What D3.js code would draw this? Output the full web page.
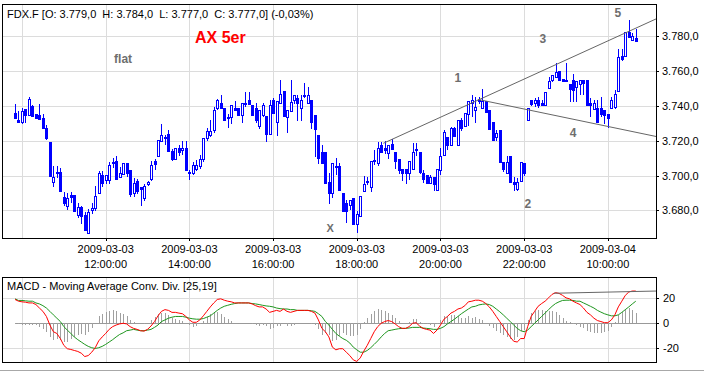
<!DOCTYPE html>
<html>
<head>
<meta charset="utf-8">
<script src="https://cdn.jsdelivr.net/npm/d3@7"></script>
<style>
  body { margin: 0; background: #fff; }
  text { font-family: "Liberation Sans", Arial, sans-serif; }
</style>
</head>
<body>
<script>

// ---- data: 5 minute bars of FDX.F, 2009-03-03 09:50 .. 2009-03-04 10:40 ----
var opens = [3736,3732,3730.5,3738,3734.5,3740,3735.5,3735,3733,3727,3719,3696.5,3702,3702,3688,3682.5,3689,3689,3677.5,3682,
  3677.5,3667,3680.5,3681.5,3690,3700.5,3697.5,3697.5,3707,3708.5,3699,3701,3707,3703,3690,3697,3693.5,3687,3695,3698,
  3708.5,3711,3720,3722,3724,3714,3709.5,3716,3714.5,3716,3702,3701.5,3703.5,3705.5,3709.5,3721.5,3723,3726,3739,3741.5,
  3739,3733,3733.5,3739,3738.5,3734.5,3741.5,3743.5,3740.5,3739,3728.5,3735,3734,3724,3743.5,3731,3741.5,3748.5,3733.5,3737,
  3743.5,3744.5,3738.5,3746,3741.5,3743.5,3734.5,3723,3713.5,3713.5,3696.5,3690,3705.5,3705.5,3690,3684,3683,3687,3672.5,3677,
  3691,3697,3693.5,3708.5,3707,3717.5,3716,3713,3718,3713.5,3709.5,3704,3704,3701.5,3703.5,3715,3713.5,3701.5,3700.5,3696,
  3699,3692,3703,3712,3722,3717.5,3727,3717.5,3732,3728.5,3735.5,3741.5,3737.5,3742.5,3738.5,3742.5,3737.5,3731,3722,3726,
  3707.5,3701.5,3711,3696.5,3692.5,3697,3707,3732,3743.5,3741.5,3743.5,3741.5,3740.5,3750,3755,3756.5,3760,3755.5,3755,3752.5,
  3755,3751,3752.5,3755,3755,3741.5,3738,3738.5,3738.5,3737.5,3735.5,3739,3739.5,3748.5,3768.5,3768.5,3782.5,3777.5,3779];
var highs = [3741,3737,3739,3738,3745,3740.5,3735.5,3741,3735.5,3729,3719,3705.5,3705.5,3704.5,3690.5,3690,3690.5,3689,3684.5,3682.5,
  3679,3681,3684.5,3694,3702.5,3702.5,3700.5,3707.5,3710,3711,3705,3707,3707,3703,3698.5,3698,3693.5,3695,3697,3708.5,
  3709.5,3720.5,3729.5,3723,3726,3715,3716,3717.5,3720,3720,3703,3708,3709,3712,3721.5,3727,3732,3739.5,3744,3746,
  3739,3735.5,3740.5,3742.5,3739,3741.5,3748,3748,3740.5,3741.5,3737.5,3741.5,3734,3743.5,3744.5,3742.5,3755,3748.5,3737.5,3755,
  3746,3746,3746,3753,3751,3743.5,3734.5,3723,3717.5,3713.5,3701.5,3707,3710,3707,3690,3686,3686,3687,3679.5,3688.5,
  3699.5,3699,3708.5,3714.5,3719,3719.5,3720,3717.5,3721,3713.5,3709.5,3704,3704,3708.5,3718.5,3718.5,3713.5,3703,3700.5,3700.5,
  3699,3704,3716,3726,3722,3728,3728,3732,3733,3736,3742.5,3746,3745,3745,3749.5,3742.5,3737.5,3731,3726,3726,
  3707.5,3711,3711,3699,3698.5,3708,3707,3738.5,3743.5,3744.5,3745,3743.5,3748,3756.5,3757.5,3764.5,3760,3755.5,3764.5,3752.5,
  3758.5,3754,3755,3755,3755,3744.5,3743.5,3743.5,3745,3737.5,3735.5,3745,3749,3772.5,3772.5,3782.5,3789,3782,3784];
var lows = [3733,3730.5,3730,3730.5,3734.5,3734,3733,3732.5,3727,3721,3700,3694,3699,3691,3683,3681,3685,3679.5,3676.5,3673,
  3669,3667,3678.5,3680.5,3690,3694,3695.5,3695.5,3705,3698,3699,3701,3700,3688.5,3688.5,3690,3683,3686,3694.5,3697.5,
  3704,3711,3720,3718,3714,3709,3709.5,3712,3712.5,3703,3698,3701,3703,3704.5,3708.5,3720.5,3722.5,3725,3738,3739,
  3732,3728,3730,3737.5,3734.5,3730.5,3740,3741,3734.5,3730.5,3727,3734,3720,3724,3736,3723,3741.5,3734,3725,3737,
  3741.5,3732,3732,3745,3741.5,3727,3711,3707,3707,3696,3684.5,3688,3701,3691.5,3679.5,3673.5,3681,3672.5,3667.5,3677,
  3691,3695,3691,3706.5,3706,3713.5,3713,3710,3715,3704.5,3701.5,3697.5,3696,3698,3703.5,3712,3701.5,3696.5,3695.5,3695.5,
  3692,3692,3701,3712,3715.5,3717.5,3722.5,3717.5,3726,3728.5,3729,3734,3731,3741.5,3738.5,3736.5,3726.5,3720.5,3720.5,3708,
  3702.5,3701.5,3696.5,3692,3691.5,3697,3700.5,3732,3740.5,3740,3739.5,3740.5,3740.5,3750,3754,3756.5,3755,3754,3754,3743,
  3742.5,3743,3747,3747,3740.5,3734,3738,3731,3734,3730,3728,3738.5,3738.5,3748.5,3766.5,3768.5,3779.5,3777.5,3777];
var closes = [3733,3730.5,3737,3735,3744,3734,3733,3732.5,3727,3721.5,3700,3699,3701.5,3691,3684.5,3687,3688,3679.5,3682,3677,
  3669,3679,3681.5,3688.5,3701.5,3695.5,3700.5,3706,3707.5,3698,3701.5,3707,3701.5,3689.5,3696,3691,3692.5,3694,3696.5,3706,
  3706.5,3720.5,3723,3721.5,3714,3709.5,3716,3713.5,3716,3703,3701.5,3706,3706,3709.5,3721.5,3725.5,3725.5,3737.5,3743.5,3739,
  3732,3733.5,3740.5,3737.5,3734.5,3741.5,3741,3741,3734.5,3732,3737.5,3740.5,3724,3740.5,3736,3742.5,3747,3734,3737.5,3742,
  3746,3741.5,3743.5,3745.5,3746,3730.5,3726.5,3710,3707,3696,3690,3707,3705,3691.5,3679.5,3679.5,3686,3672.5,3678,3688.5,
  3695,3696.5,3708.5,3709,3716,3713.5,3714.5,3717.5,3715,3708.5,3703,3701.5,3701.5,3708.5,3713.5,3715.5,3702,3698,3695.5,3699,
  3695,3704,3711,3725,3717.5,3727,3722.5,3732,3727,3736,3742.5,3743.5,3739.5,3743.5,3743,3736.5,3726.5,3720.5,3724.5,3708,
  3704,3707.5,3696.5,3695,3696.5,3708,3701.5,3738.5,3741,3743.5,3740.5,3740.5,3748,3754,3757.5,3759.5,3755,3754,3754,3749.5,
  3749,3754,3755,3753,3740.5,3740.5,3741.5,3731,3735.5,3735,3733,3743.5,3747,3768,3767,3782.5,3779.5,3780,3777];

// MACD [25,19]: MACD line (red) and signal line (green), one value per bar
var macdLine = [19.2,17.8,17.3,17.0,16.4,16.4,15.1,12.3,9.6,5.5,-1.4,-6.8,-8.2,-12.3,-17.8,-20.5,-21.1,-21.9,-22.7,-24.1,
  -26.8,-26.0,-23.3,-19.7,-14.2,-11.0,-8.2,-4.9,-2.7,-1.4,-0.5,0,-0.5,-2.7,-4.1,-4.9,-6.0,-6.3,-4.9,-2.2,
  1.4,6.0,9.6,11.0,10.4,8.8,8.8,8.2,7.7,5.5,2.7,0.8,0.8,2.7,6.0,9.6,13.2,16.4,19.2,19.7,
  18.6,17.8,17.3,16.4,16.4,16.4,16.4,16.4,15.6,14.2,13.2,13.2,11.5,8.8,9.6,10.4,9.6,11.5,9.6,8.8,
  9.6,10.4,10.4,10.4,10.4,9.6,8.2,2.7,-4.1,-6.8,-11.0,-19.2,-21.4,-20.5,-20.5,-23.3,-26.0,-29.5,-30.7,-27.9,
  -22.5,-17.8,-12.3,-6.8,-2.7,0,1.4,2.2,1.4,-0.5,-2.7,-4.1,-4.1,-2.7,0,0.5,-2.2,-4.1,-4.9,-5.5,
  -8.2,-5.5,-1.4,3.3,5.5,8.2,9.6,11.5,12.3,14.2,17.3,17.8,18.6,18.6,17.8,15.9,13.2,9.6,5.5,1.4,
  -2.7,-6.8,-11.0,-14.5,-15.1,-12.3,-12.3,-2.7,5.5,9.6,13.7,15.9,17.8,20.5,23.3,24.7,24.1,22.5,20.5,19.7,
  17.8,16.4,15.1,12.3,8.8,6.8,4.1,2.2,1.4,0.5,0.5,2.7,6.8,13.2,17.8,22.5,25.2,26.0,26.0];
var signalLine = [19.7,18.4,18.4,18.1,17.8,17.8,16.4,15.6,14.2,12.3,9.6,6.8,4.1,1.4,-2.7,-5.5,-8.2,-11.0,-13.2,-15.1,
  -17.0,-18.6,-19.7,-20.3,-19.7,-18.6,-17.0,-15.1,-13.2,-11.0,-9.0,-7.7,-6.0,-5.5,-4.9,-5.5,-6.0,-6.0,-5.5,-4.9,
  -3.3,-1.4,1.4,2.7,4.1,4.9,5.5,5.5,5.5,4.9,4.1,3.6,3.3,3.3,3.8,4.9,6.0,8.2,10.4,12.3,
  13.7,14.5,15.3,15.9,16.4,16.4,16.4,16.4,15.9,15.6,15.1,14.5,14.0,13.7,13.2,12.3,11.8,11.5,11.5,11.0,
  11.0,10.4,10.4,10.4,10.4,10.1,9.6,7.7,5.5,1.4,-1.4,-4.9,-8.2,-10.4,-12.3,-13.7,-15.9,-19.2,-21.4,-23.3,
  -23.3,-21.9,-19.7,-17.0,-14.2,-11.0,-8.2,-6.0,-5.5,-4.9,-4.4,-4.1,-4.1,-3.8,-3.3,-3.3,-3.3,-3.8,-4.1,-4.4,
  -4.9,-4.9,-4.1,-2.7,-0.5,1.4,3.3,5.5,7.7,9.6,11.5,13.2,13.7,14.8,15.3,15.6,15.1,13.7,11.5,9.3,
  6.8,4.1,1.4,-1.4,-4.1,-6.0,-6.8,-5.5,-2.7,0,2.7,5.5,8.2,11.0,13.7,15.9,17.3,18.4,18.6,18.6,
  18.4,17.8,17.8,16.4,15.1,13.7,12.3,10.4,9.0,7.7,6.8,6.0,6.0,6.8,8.8,11.0,13.2,15.6,17.8];

// axis ticks
var priceTicks = [3680, 3700, 3720, 3740, 3760, 3780];
var macdTicks = [-20, 0, 20];
var tickBars = [2, 26, 50, 74, 98, 122, 146, 170];
var tickDates = [null, "2009-03-03", "2009-03-03", "2009-03-03", "2009-03-03", "2009-03-03", "2009-03-03", "2009-03-04"];
var tickTimes = [null, "12:00:00", "14:00:00", "16:00:00", "18:00:00", "20:00:00", "22:00:00", "10:00:00"];

// drawn objects: trend lines [bar, price] and wave labels
var upperTrend = [[105.6, 3718.5], [184.1, 3790.1]];
var lowerTrend = [[132.7, 3743.7], [184.1, 3722.3]];
var macdTrend = [[154.5, 24.2], [184.1, 26.0]];
var noteTexts = ["AX 5er", "flat", "X", "1", "2", "3", "4", "5"];
var noteBars = [51.6, 28.4, 89.3, 126.0, 146.1, 150.4, 159.1, 171.9];
var notePrices = [3776.2, 3764.4, 3667.7, 3753.8, 3681.6, 3776.2, 3722.3, 3791.1];

var title = "FDX.F [O: 3.779,0  H: 3.784,0  L: 3.777,0  C: 3.777,0] (-0,03%)";
var macdTitle = "MACD - Moving Average Conv. Div. [25,19]";

// ---- layout ----
var W = 704, H = 372;
var left = 2, right = 656;
var mainTop = 4, mainBottom = 238;
var macdTop = 277, macdBottom = 362;

var blue = "#0000ff", gridColor = "#dcdcdc", noteColor = "#6e6e6e";

var deLocale = d3.formatLocale({decimal: ",", thousands: ".", grouping: [3], currency: ["", ""], minus: "-"});
var priceFmt = deLocale.format(",.1f");

var svg = d3.select("body").append("svg")
  .attr("width", W)
  .attr("height", H)
  .style("display", "block");

svg.append("rect").attr("width", W).attr("height", H).attr("fill", "#fff");

var x = d3.scaleLinear().domain([-3.73, 183.8]).range([left, right]);
var y = d3.scaleLinear().domain([3664.2, 3798.4]).range([mainBottom, mainTop]);
var ym = d3.scaleLinear().domain([-31.2, 37.3]).range([macdBottom, macdTop]);

function px(v) { return Math.round(v) + 0.5; }

svg.append("clipPath").attr("id", "clipMain").append("rect")
  .attr("x", left).attr("y", mainTop).attr("width", right - left).attr("height", mainBottom - mainTop);
svg.append("clipPath").attr("id", "clipMacd").append("rect")
  .attr("x", left).attr("y", macdTop).attr("width", right - left).attr("height", macdBottom - macdTop);

// ---- main panel ----
var main = svg.append("g");
var grid = main.append("g").attr("stroke", gridColor).attr("shape-rendering", "crispEdges");
tickBars.forEach(function(b) {
  grid.append("line").attr("x1", px(x(b))).attr("x2", px(x(b))).attr("y1", mainTop).attr("y2", mainBottom);
});
priceTicks.forEach(function(p) {
  grid.append("line").attr("x1", left).attr("x2", right).attr("y1", px(y(p))).attr("y2", px(y(p)));
});

var candles = main.append("g").attr("clip-path", "url(#clipMain)").attr("shape-rendering", "crispEdges");
var bars = d3.range(opens.length);
candles.selectAll("line.wick").data(bars).enter().append("line")
  .attr("class", "wick")
  .attr("x1", function(i) { return px(x(i)); })
  .attr("x2", function(i) { return px(x(i)); })
  .attr("y1", function(i) { return Math.round(y(highs[i])); })
  .attr("y2", function(i) { return Math.round(y(lows[i])) + 1; })
  .attr("stroke", blue);
candles.selectAll("rect.body").data(bars).enter().append("rect")
  .attr("class", "body")
  .each(function(i) {
    var up = closes[i] >= opens[i];
    var top = Math.round(y(Math.max(opens[i], closes[i])));
    var bot = Math.round(y(Math.min(opens[i], closes[i])));
    var cx = Math.round(x(i));
    var r = d3.select(this);
    if (up) {
      r.attr("x", cx - 0.5).attr("y", top + 0.5).attr("width", 2).attr("height", Math.max(bot - top, 1))
        .attr("fill", "#fff").attr("stroke", blue);
    } else {
      r.attr("x", cx - 1).attr("y", top).attr("width", 3).attr("height", Math.max(bot - top + 1, 2))
        .attr("fill", blue);
    }
  });

var trendLine = d3.line().x(function(d) { return x(d[0]); }).y(function(d) { return y(d[1]); });
main.append("g").attr("clip-path", "url(#clipMain)").selectAll("path")
  .data([upperTrend, lowerTrend]).enter().append("path")
  .attr("d", trendLine)
  .attr("fill", "none").attr("stroke", "#666").attr("stroke-width", 1);

main.append("rect")
  .attr("x", left + 0.5).attr("y", mainTop + 0.5)
  .attr("width", right - left).attr("height", mainBottom - mainTop)
  .attr("fill", "none").attr("stroke", "#000").attr("shape-rendering", "crispEdges");

main.append("text").attr("x", 7).attr("y", 17.5)
  .attr("font-size", 11).attr("fill", "#000").attr("xml:space", "preserve")
  .style("white-space", "pre").text(title);

// notes
noteTexts.forEach(function(t, k) {
  var big = t === "AX 5er";
  main.append("text")
    .attr("x", x(noteBars[k])).attr("y", y(notePrices[k]))
    .attr("font-size", big ? 16 : (t === "X" ? 11 : 12))
    .attr("font-weight", "bold")
    .attr("fill", big ? "#ff0000" : noteColor)
    .text(t);
});

// right price axis
var pAxis = main.append("g");
priceTicks.forEach(function(p) {
  pAxis.append("line").attr("x1", right).attr("x2", right + 3).attr("y1", px(y(p))).attr("y2", px(y(p)))
    .attr("stroke", "#000").attr("shape-rendering", "crispEdges");
  pAxis.append("text").attr("x", 662).attr("y", y(p) + 4).attr("font-size", 11).text(priceFmt(p));
});

// bottom time axis
var tAxis = main.append("g");
tickBars.forEach(function(b, k) {
  if (!tickDates[k]) return;
  tAxis.append("line").attr("x1", px(x(b))).attr("x2", px(x(b))).attr("y1", mainBottom).attr("y2", mainBottom + 3)
    .attr("stroke", "#000").attr("shape-rendering", "crispEdges");
  tAxis.append("text").attr("x", x(b)).attr("y", 252.5).attr("text-anchor", "middle").attr("font-size", 11).text(tickDates[k]);
  tAxis.append("text").attr("x", x(b)).attr("y", 267.5).attr("text-anchor", "middle").attr("font-size", 11).text(tickTimes[k]);
});

// ---- MACD panel ----
var mp = svg.append("g");
var mgrid = mp.append("g").attr("stroke", gridColor).attr("shape-rendering", "crispEdges");
tickBars.forEach(function(b) {
  mgrid.append("line").attr("x1", px(x(b))).attr("x2", px(x(b))).attr("y1", macdTop).attr("y2", macdBottom);
});
[-20, 20].forEach(function(v) {
  mgrid.append("line").attr("x1", left).attr("x2", right).attr("y1", px(ym(v))).attr("y2", px(ym(v)));
});

var mc = mp.append("g").attr("clip-path", "url(#clipMacd)");
mc.append("line").attr("x1", x(0)).attr("x2", right).attr("y1", px(ym(0))).attr("y2", px(ym(0)))
  .attr("stroke", "#999").attr("shape-rendering", "crispEdges");
mc.append("g").attr("shape-rendering", "crispEdges").selectAll("line").data(bars).enter().append("line")
  .attr("x1", function(i) { return px(x(i)); })
  .attr("x2", function(i) { return px(x(i)); })
  .attr("y1", Math.round(ym(0)))
  .attr("y2", function(i) { return Math.round(ym(macdLine[i] - signalLine[i])); })
  .attr("stroke", "#a0a0a0");

var mLine = d3.line().x(function(d, i) { return x(i); }).y(function(d) { return ym(d); });
mc.append("path").datum(signalLine).attr("d", mLine).attr("fill", "none").attr("stroke", "#1e961e").attr("stroke-width", 1);
mc.append("path").datum(macdLine).attr("d", mLine).attr("fill", "none").attr("stroke", "#ff0000").attr("stroke-width", 1);
mc.append("path").datum(macdTrend)
  .attr("d", d3.line().x(function(d) { return x(d[0]); }).y(function(d) { return ym(d[1]); }))
  .attr("fill", "none").attr("stroke", "#666").attr("stroke-width", 1);

mp.append("rect")
  .attr("x", left + 0.5).attr("y", macdTop + 0.5)
  .attr("width", right - left).attr("height", macdBottom - macdTop)
  .attr("fill", "none").attr("stroke", "#000").attr("shape-rendering", "crispEdges");

mp.append("text").attr("x", 7).attr("y", 289.5).attr("font-size", 11).text(macdTitle);

macdTicks.forEach(function(v) {
  mp.append("line").attr("x1", right).attr("x2", right + 3).attr("y1", px(ym(v))).attr("y2", px(ym(v)))
    .attr("stroke", "#000").attr("shape-rendering", "crispEdges");
  mp.append("text").attr("x", 663).attr("y", ym(v) + 4).attr("font-size", 11).text(String(v));
});

// bottom frame line
svg.append("line").attr("x1", 0).attr("x2", W).attr("y1", 370.5).attr("y2", 370.5)
  .attr("stroke", "#a8a8a8");

</script>
</body>
</html>
